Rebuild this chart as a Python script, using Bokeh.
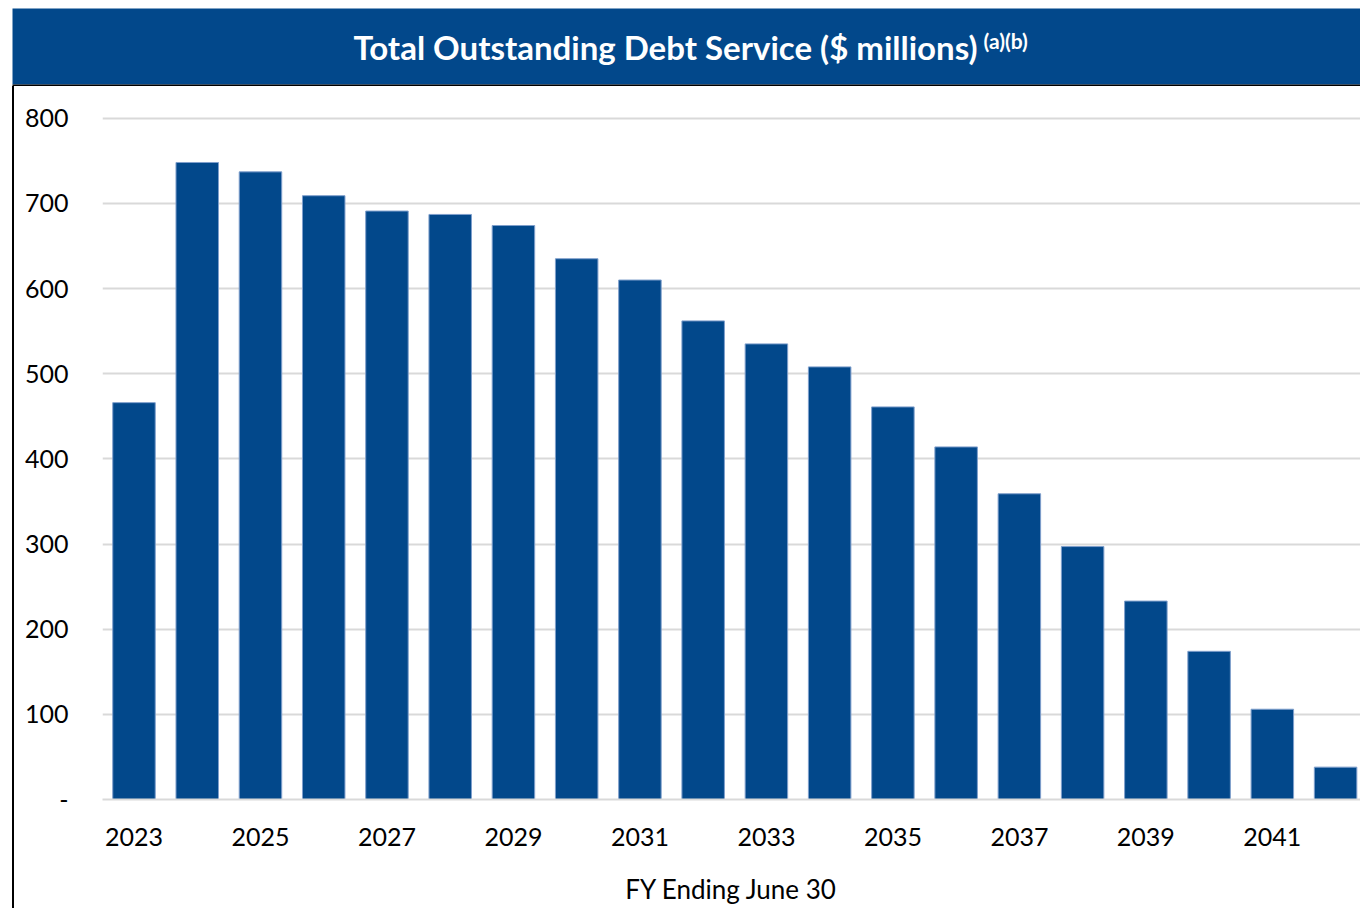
from bokeh.plotting import figure
from bokeh.layouts import column, row
from bokeh.models import Range1d, FixedTicker, ColumnDataSource, Spacer
from bokeh.core.properties import value
from bokeh.embed import file_html
from bokeh.resources import INLINE

# ---------------- data ----------------
fiscal_years = [2023, 2024, 2025, 2026, 2027, 2028, 2029, 2030, 2031, 2032,
                2033, 2034, 2035, 2036, 2037, 2038, 2039, 2040, 2041, 2042]
debt_service = [466, 748, 737, 709, 691, 687, 674, 635, 610, 562,
                535, 508, 461, 414, 359, 297, 233, 174, 106, 38]
x_tick_years = [2023, 2025, 2027, 2029, 2031, 2033, 2035, 2037, 2039, 2041]
y_ticks = [0, 100, 200, 300, 400, 500, 600, 700, 800]
y_tick_labels = ["-", "100", "200", "300", "400", "500", "600", "700", "800"]
title_text = "Total Outstanding Debt Service ($ millions)"
title_note = "(a)(b)"
x_axis_title = "FY Ending June 30"

BLUE = "#02488B"
FONT = "Lato"

# ---------------- header banner ----------------
header = figure(width=1360, height=86, x_range=Range1d(0, 1360), y_range=Range1d(86, 0),
                x_axis_type=None, y_axis_type=None, toolbar_location=None,
                output_backend="svg", min_border=0)
header.grid.visible = False
header.outline_line_color = None
header.background_fill_color = "white"
header.border_fill_color = "white"
header.quad(left=[12], right=[1360], top=[8], bottom=[84], fill_color=BLUE, line_color=None)
header.quad(left=[12], right=[1360], top=[84], bottom=[86], fill_color="black", line_color=None)
header.text(x=[977], y=[46], text=[title_text], text_align="right", text_baseline="middle",
            text_color="white", text_font=value(FONT), text_font_style="bold",
            text_font_size="33px")
header.text(x=[983], y=[40], text=[title_note], text_align="left", text_baseline="middle",
            text_color="white", text_font=value(FONT), text_font_style="bold",
            text_font_size="21px")

# ---------------- left border ----------------
left_gap = Spacer(width=12, height=822)
left_rule = Spacer(width=2, height=822, styles={"background-color": "black"})

# ---------------- main chart ----------------
src = ColumnDataSource(data=dict(year=fiscal_years, value=debt_service))
p = figure(width=1346, height=822,
           x_range=Range1d(2022.502, 2042.394), y_range=Range1d(0, 820.8),
           toolbar_location=None, output_backend="svg",
           min_border_left=88, min_border_right=0, min_border_top=14, min_border_bottom=109)
p.outline_line_color = None
p.background_fill_color = "white"
p.border_fill_color = "white"

p.vbar(x="year", top="value", width=0.672, source=src,
       fill_color=BLUE, line_color="#7F9FCC", line_width=1)

p.xgrid.visible = False
p.ygrid.grid_line_color = "#D9D9D9"
p.ygrid.grid_line_width = 2

p.xaxis.ticker = FixedTicker(ticks=x_tick_years)
p.yaxis.ticker = FixedTicker(ticks=y_ticks)
p.yaxis.major_label_overrides = {t: l for t, l in zip(y_ticks, y_tick_labels)}

for ax in (p.xaxis[0], p.yaxis[0]):
    ax.major_tick_line_color = None
    ax.minor_tick_line_color = None
    ax.major_tick_out = 0
    ax.major_tick_in = 0
    ax.major_label_text_font = FONT
    ax.major_label_text_font_size = "25px"
    ax.major_label_text_color = "black"

p.yaxis.axis_line_color = None
p.yaxis.major_label_standoff = 34
p.xaxis.axis_line_color = "#D9D9D9"
p.xaxis.axis_line_width = 2
p.xaxis.major_label_standoff = 28

p.xaxis.axis_label = x_axis_title
p.xaxis.axis_label_text_font = FONT
p.xaxis.axis_label_text_font_style = "normal"
p.xaxis.axis_label_text_font_size = "26px"
p.xaxis.axis_label_text_color = "black"
p.xaxis.axis_label_standoff = 24

layout = column(header, row(left_gap, left_rule, p, spacing=0), spacing=0)

open("out.html", "w").write(file_html(layout, INLINE))
